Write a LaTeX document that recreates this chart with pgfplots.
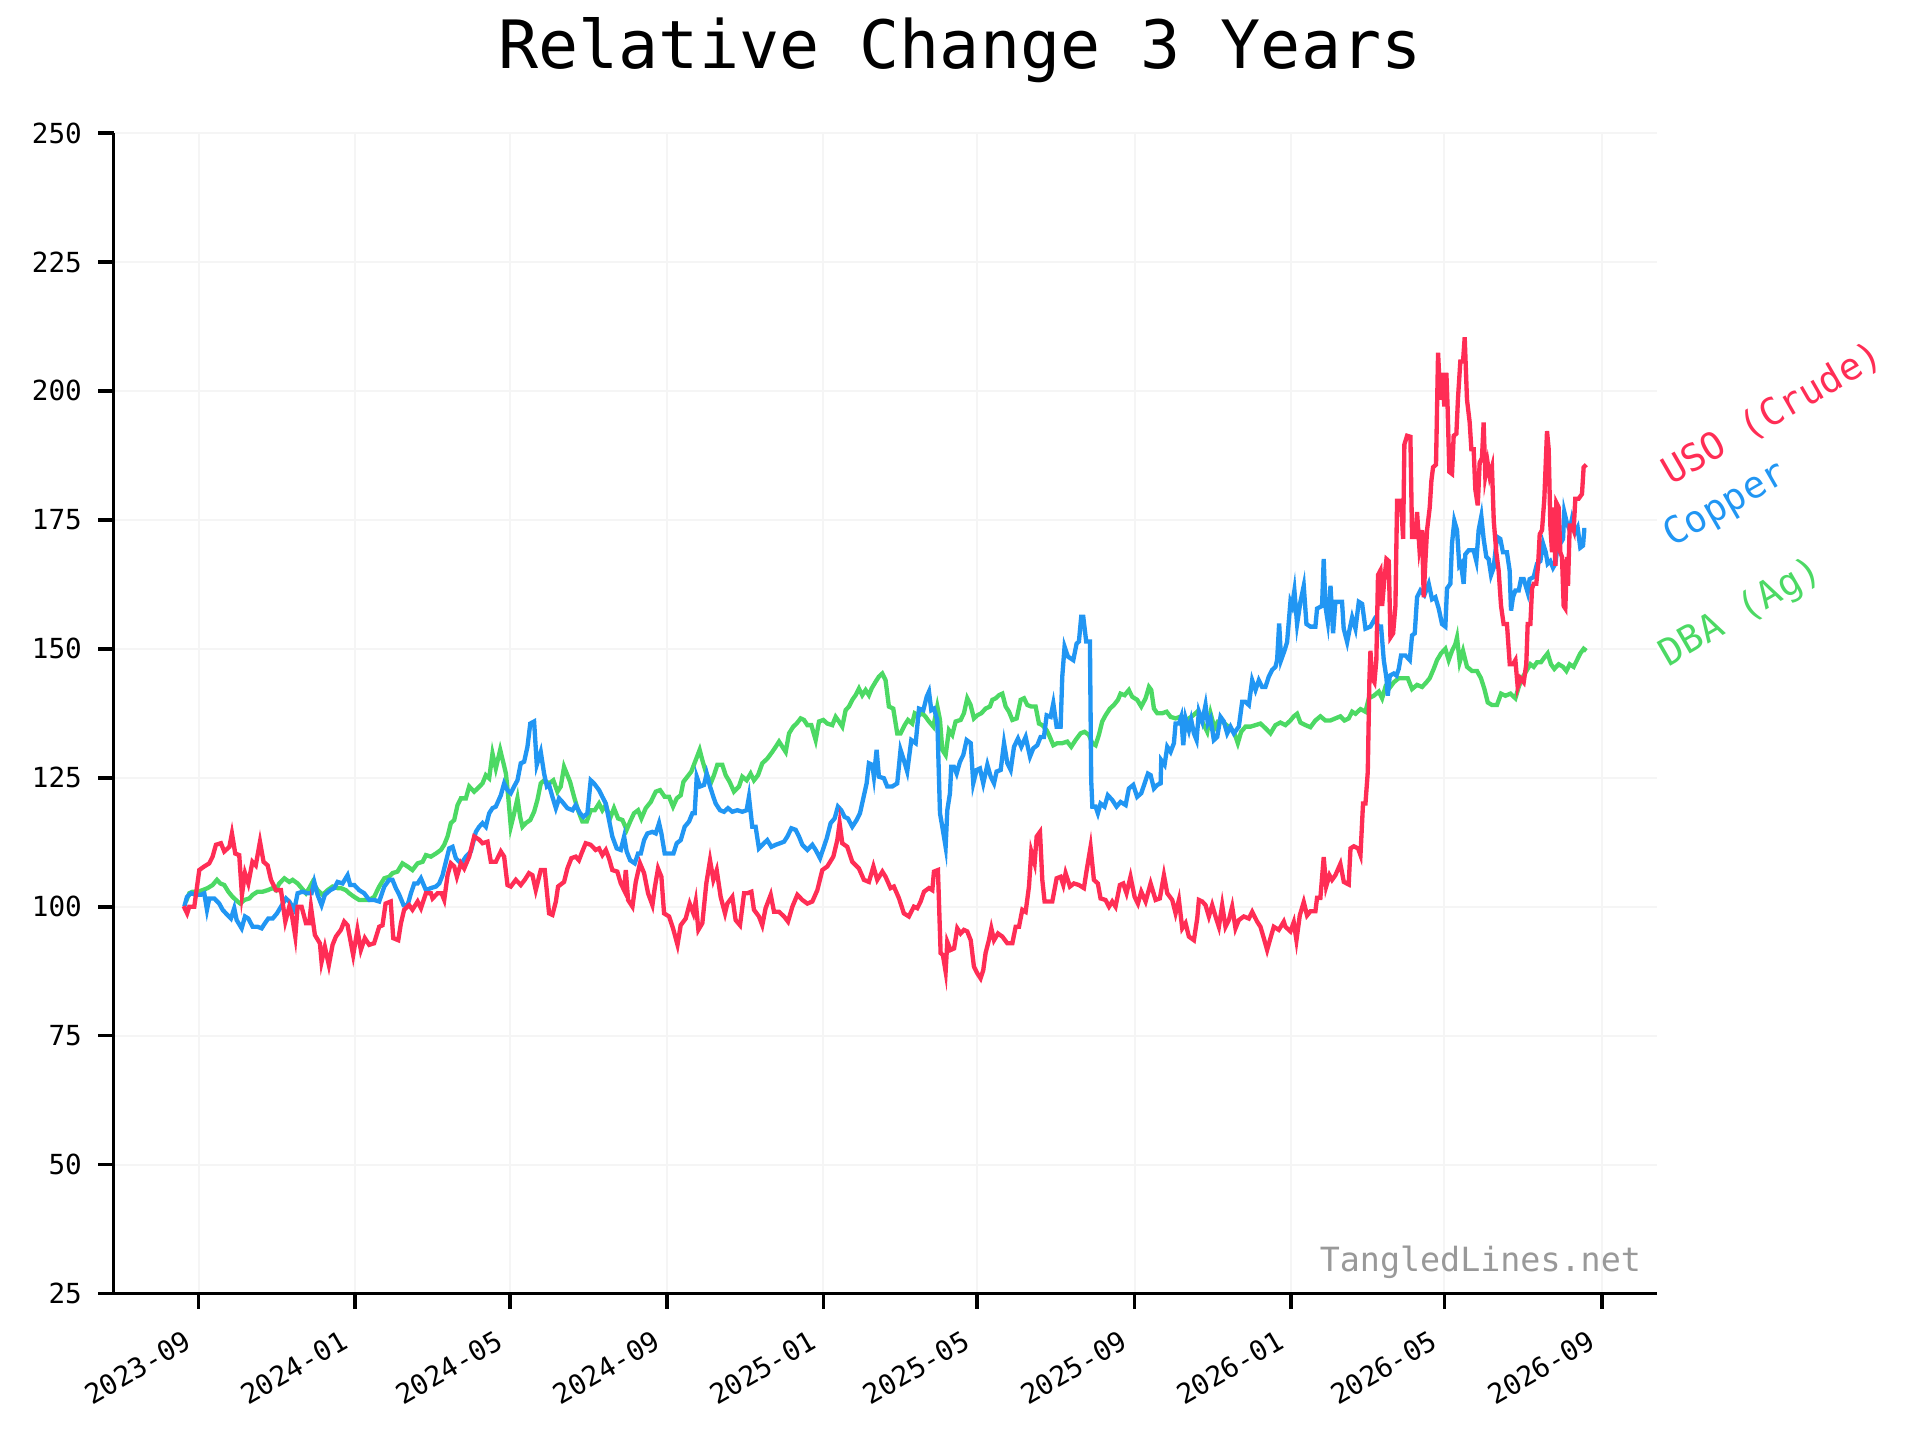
\documentclass[border=0pt]{standalone}
\usepackage{fontspec}
\setmainfont{DejaVu Sans Mono}
\usepackage{pgfplots}
\pgfplotsset{compat=1.18}
\definecolor{uso}{HTML}{FF2D55}
\definecolor{cop}{HTML}{2196F3}
\definecolor{dba}{HTML}{4CD964}
\begin{document}
\begin{tikzpicture}
\useasboundingbox (-34.05pt,-43.95pt) rectangle (541.95pt,388.05pt);
\node[anchor=base, font=\fontsize{20}{24}\selectfont] at (253.95pt,367.5pt) {Relative Change 3 Years};
\begin{axis}[
  scale only axis, width=463.05pt, height=348.15pt,
  at={(0,0)}, anchor=south west,
  xmin=-66.5, xmax=1139, ymin=25, ymax=250,
  axis x line*=bottom, axis y line*=left,
  axis line style={line width=1.1pt, -},
  xtick={0,122,243,366,488,608,731,853,973,1096},
  xticklabels={2023-09,2024-01,2024-05,2024-09,2025-01,2025-05,2025-09,2026-01,2026-05,2026-09},
  ytick={25,50,...,250},
  tick align=outside, major tick length=4.5pt,
  tick style={line width=1.1pt, black},
  grid=major, grid style={line width=0.6pt, color=black!4},
  /pgf/number format/assume math mode=true,
  ticklabel style={font=\fontsize{8.3}{10}\selectfont},
  xticklabel style={xshift=-4.6pt, yshift=-6pt, rotate=30, anchor=north east, inner sep=0pt},
  yticklabel style={xshift=-4.8pt, anchor=east, inner sep=0pt},
  clip=false,
]
\addplot[dba, line width=1.3pt] coordinates {
(-9.9,101) (-7.3,102.6) (-4.7,102.9) (-0.8,102.9) (3.1,103.2) (7,103.6) (10.9,104.2) (14.3,105.2) (16.9,104.5) (20,104.2)
(23.2,102.9) (26.5,101.9) (30.4,101) (32.5,100.6) (35.7,101.3) (39.6,101.6) (42.2,102.3) (46,102.9) (50,102.9) (53.9,103.2)
(57.8,103.6) (60.4,103.2) (63,104.5) (66.9,105.5) (70.8,104.8) (73.4,105.2) (77.3,104.5) (80.4,103.6) (83.8,102.6) (86.4,103.6)
(89,104.8) (92.9,103.2) (96.8,102.3) (100.7,103.2) (104.6,103.9) (108.5,103.6) (111.1,103.6) (115,103.2) (117.6,102.6) (121.5,101.9)
(125.4,101.3) (129.3,101.3) (133.2,101.3) (137.1,101.9) (141,103.9) (145,105.5) (148.8,105.8) (151.4,106.5) (155.3,106.8) (159.2,108.4)
(163.1,107.8) (167,107.1) (171,108.4) (174.9,108.7) (177.5,110) (181.4,109.7) (185.3,110.3) (189.2,111) (191.8,112) (194.4,113.6)
(197,116.2) (199.6,116.8) (202.2,119.7) (204.8,121) (208.7,121) (211.3,123.3) (215.2,122.3) (217.8,122.9) (221.7,123.9) (224.3,125.5)
(226.9,124.9) (229.5,129.7) (232.1,126.8) (235.5,130.4) (238.1,127.8) (240,125.8) (241.8,121.3) (243.8,115.5) (246.4,118.1) (249,121)
(251.1,117.4) (252.9,115.5) (255.5,116.2) (259,116.8) (262,118.4) (264.6,120.7) (267.2,123.9) (269.8,124.5) (273.7,123.9) (277,124.5)
(280.2,122.3) (282.8,123.3) (285.4,127.1) (287.5,125.8) (290.1,124.2) (293.2,121.3) (296.3,118.7) (299.7,116.5) (303.1,116.5) (306.2,118.7)
(309.4,118.7) (312.7,120) (315.3,118.7) (318,119.7) (321.3,117.1) (324.4,119.1) (327.6,117.1) (331,116.8) (334.3,114.9) (337,116.5)
(340,118.1) (343.2,118.7) (345.8,117.1) (349.2,119.1) (353.1,120.3) (357,122.3) (360.4,122.6) (364,121.3) (367.4,121.3) (370.5,119.4)
(373.4,121) (376.5,121.6) (378.6,124.2) (381.7,125.2) (384.8,126.2) (388.2,128.4) (391.3,130.4) (393.4,128.4) (396,126.2) (399.9,123.9)
(402.5,125.5) (405.1,127.5) (409,127.5) (411.6,125.5) (414.7,124.2) (418.1,122.3) (422,123.3) (424.6,125.2) (428,124.5) (431.1,125.8)
(433.7,124.5) (436.9,125.5) (440.2,127.8) (444.1,128.7) (448,130) (450.7,131) (453.3,132) (455.9,131) (458.5,130) (461.1,133.6)
(464.4,134.9) (467,135.5) (470.2,136.5) (472.8,136.2) (475.4,135.2) (478.5,135.2) (481.9,132.3) (484.5,135.9) (487.9,136.2) (491,135.5)
(494.9,135.2) (497.5,136.8) (500.1,135.9) (502.7,134.9) (505.3,138.1) (507.9,138.8) (510.5,140.1) (513.1,141) (515.7,142.3) (518.3,141)
(520.9,142) (523.5,141) (525.6,142.3) (528.7,143.6) (531.3,144.6) (533.9,145.2) (536.5,143.9) (539.1,138.8) (542.5,138.4) (545.6,133.6)
(548.2,133.6) (551.4,135.2) (554,136.2) (557.3,135.5) (559.3,137.5) (562.6,137.1) (565.2,137.5) (567.8,136.8) (570.4,135.9) (573.8,134.9)
(576.9,138.8) (579,136.2) (580.8,130.4) (583.4,129.4) (586,134.2) (588.6,133.3) (591.2,135.9) (595.1,136.2) (597.7,137.5) (600.3,140.4)
(602.9,139.1) (605.5,136.5) (608.1,137.1) (611.3,137.5) (614.6,138.4) (618,138.8) (619.9,140.1) (622.5,140.4) (625.1,141) (627.7,141.3)
(630.3,138.8) (632.9,137.8) (635.5,136.2) (638.9,136.5) (642,140.1) (644.6,140.4) (647.2,139.1) (650.3,138.8) (653.7,138.8) (656.3,135.5)
(658.9,135.2) (662.3,134.2) (664.1,133.3) (667.5,131.3) (670.6,131.7) (674.5,131.7) (678.4,132) (681.5,131) (684.9,132.3) (688.8,133.6)
(691.9,133.9) (695.3,133.3) (697.9,131.7) (700.5,131.3) (703.1,133.3) (705.7,135.9) (708.3,137.1) (711.7,138.4) (714.8,139.1) (718,140.1)
(720,141.3) (723.2,141) (726.5,142) (729.1,140.7) (733,140.1) (736.2,138.8) (739.6,140.4) (742.2,142.6) (744,142) (746.1,138.4)
(748.7,137.5) (752.6,137.5) (756,137.8) (759.1,136.8) (763,136.5) (766.4,136.8) (769.5,135.5) (773.4,136.5) (776.8,137.1) (779.9,137.8)
(782.5,136.5) (785.1,135.2) (787.7,133.9) (790.3,137.5) (793.4,134.6) (796,135.9) (799.4,135.9) (802.8,135.2) (805.9,134.6) (809,133.6)
(811.6,131.7) (814.2,133.9) (817.6,134.9) (821.5,134.9) (825.4,135.2) (829.3,135.5) (833.2,134.6) (837.1,133.6) (841,135.2) (844.9,135.7)
(848.8,135.2) (852.7,136.1) (855.3,136.9) (857.9,137.4) (860.5,135.7) (864.4,135.2) (868.3,134.8) (872.2,136.1) (876.1,136.9) (880,136.1)
(883.9,136.1) (887.8,136.5) (891.7,136.9) (894.9,136.1) (898.2,136.5) (900.9,137.8) (903.5,137.4) (907.4,138.3) (911.3,137.8) (913.9,140.4)
(917.8,140.9) (921.7,141.7) (924.3,140.4) (926.9,142.6) (929.5,142.2) (933.4,143.5) (937.3,144.3) (941.2,144.3) (944.3,144.3) (947.7,142.2)
(951.6,143) (955.5,142.6) (958.9,143.5) (961.5,144.3) (964.6,146.1) (967.2,147.8) (970.3,149.1) (973.7,150) (976.3,147.8) (978.9,149.6)
(981.5,150.9) (982.8,152.2) (984.9,147.4) (987.5,149.6) (990.6,146.5) (994.5,145.7) (998.4,145.7) (1001.5,144.3) (1004.2,142.2) (1006.8,139.6)
(1010.1,139.1) (1014,139.1) (1017.2,141.3) (1020.6,140.9) (1024.5,141.3) (1028.4,140.4) (1031,142.6) (1033.6,144.3) (1037,145.7) (1040.1,147)
(1042.7,146.5) (1045.3,147.4) (1048.4,147.4) (1051,148.3) (1053.6,149.1) (1056.2,147) (1058.8,146.1) (1062.2,147) (1065.6,146.5) (1068.2,145.7)
(1070.8,147) (1073.9,146.5) (1076.5,147.8) (1079.1,149.1) (1081.7,150) (1083.8,149.6)
};
\addplot[cop, line width=1.3pt] coordinates {
(-11.2,100) (-9.1,101.9) (-6,102.6) (-2,102.3) (1.8,102.3) (4.4,102.6) (6.5,99.4) (8.3,101.6) (12.2,101.6) (16.1,100.6)
(18.7,99.4) (21.3,98.7) (25.2,97.7) (27.8,99.7) (29.7,97.4) (33.6,95.8) (36.2,98.1) (38.8,97.7) (42.2,96.1) (46,96.1)
(49.2,95.8) (51.8,96.8) (54.4,97.7) (57.8,97.7) (61.2,98.7) (64.3,100) (68.2,101.6) (70.8,101) (74.7,99.4) (77.3,102.6)
(81.2,102.9) (85.1,102.6) (88.2,102.6) (90.3,104.8) (92.9,102.3) (96,100.3) (98.6,102.3) (102.8,103.2) (105.9,103.6) (108.5,104.8)
(112.4,104.5) (116.3,106.1) (118.4,104.2) (121.5,104.2) (125.4,103.2) (129.3,102.6) (133.2,101.3) (137.1,101.3) (141,101) (145,103.9)
(148.8,105.2) (151.4,105.2) (154,103.6) (156.7,102.3) (160,100.3) (163.2,100.3) (165.8,102.6) (168.4,104.5) (171,104.5) (173.6,105.5)
(177.5,103.2) (181.4,103.6) (185.3,103.9) (187.9,104.5) (190.5,106.1) (193.1,108.7) (195.7,111.3) (198.3,111.6) (200.9,109.4) (203.5,108.7)
(206.1,108.7) (208.7,109.7) (212.6,110.7) (216.5,114.5) (219.1,115.5) (221.7,116.2) (224.3,115.5) (226.9,118.1) (229.5,119.1) (232.1,119.4)
(236,121.6) (238.6,123.9) (241.2,122.6) (243.8,122) (246.4,123.3) (249,124.5) (251.6,127.8) (254.2,128.1) (256.8,131) (259,135.5)
(262,135.9) (264.1,127.5) (267.2,130) (269.8,125.8) (272,123.3) (273.7,123.6) (276.3,121.3) (279,119.1) (281.5,121) (284.1,120.3)
(288,119.1) (292,118.7) (294.5,119.7) (297.9,118.1) (300.5,117.4) (303.6,118.1) (306.2,124.5) (308.8,123.9) (312.7,122.6) (315.3,121.3)
(318,120) (320.5,116.8) (323.1,113.6) (326.5,111.3) (329.7,111) (332.3,113.6) (334.3,110.7) (337,109) (340.6,108.4) (343.2,110.3)
(345.3,110.3) (347.9,112.9) (350.5,114.2) (354.4,114.5) (357,114.2) (359.6,116.2) (361.4,114.2) (364,110.3) (367.4,110.3) (370.8,110.3)
(373.4,112.3) (376.5,112.9) (379.6,115.5) (383,116.5) (385.6,118.1) (387.4,118.1) (389,125.2) (391.6,123.3) (394.7,123.6) (396.8,125.8)
(399.4,123.3) (402,121.3) (403.8,120) (407.2,118.7) (410.3,118.4) (413.4,119.1) (416.8,118.4) (420.7,118.7) (424.6,118.4) (428,118.7)
(429.8,121.3) (432.4,115.5) (435,115.5) (437.6,111.3) (441.5,112.3) (444.1,112.9) (447.3,111.6) (450.7,112) (454.1,112.3) (457.2,112.6)
(459.8,113.6) (462.9,115.2) (466.3,114.9) (468.9,113.6) (471.5,112) (475.4,111) (479.3,112) (481.9,111) (485.3,109.4) (487.9,111.3)
(490.5,113.2) (493.6,116.2) (496.7,117.1) (499.3,119.4) (501.9,118.7) (504.5,117.4) (507.1,117.1) (510.5,115.5) (513.9,116.8) (516.5,118.1)
(519.1,121) (521.7,123.9) (523.5,127.8) (526.1,127.5) (527.4,125.2) (529.5,130.4) (531.3,125.2) (535.2,124.9) (537.8,123.3) (541.7,123.3)
(545.6,123.9) (548.2,130.4) (550.8,128.4) (553.4,126.2) (556.6,132.3) (560,131.7) (562.6,138.4) (566,138.1) (568.6,140.7) (570.4,141.7)
(572.2,138.1) (574.3,138.4) (576.9,136.2) (579,118.1) (580.8,115.5) (583.4,111.6) (584.7,118.7) (586.8,122) (587.8,127.1) (589.9,127.1)
(592,125.8) (594.6,128.1) (597.2,129.4) (599.8,132.3) (603,131.7) (605,123.9) (607.6,126.5) (610.2,126.8) (612.8,123.9) (616,127.5)
(618.6,125.2) (621.2,123.9) (623.2,126.2) (626.4,126.5) (629,131.7) (631.6,127.8) (634.2,126.5) (636.8,131) (639.9,132.6) (642.5,131)
(645.9,132.9) (649.3,129.1) (651.9,130.7) (655,131.3) (657.6,132.9) (660.2,132.9) (662.3,137.1) (665.4,136.8) (667.5,139.4) (670.1,134.9)
(673.2,134.9) (674.5,144.6) (676.3,150.4) (678.9,148.5) (683.1,147.8) (685.7,151) (687.5,151.4) (689.3,156.2) (690.9,156.2) (693.2,151.4)
(696.1,151.4) (697.1,124.5) (698,119.4) (700.5,119.4) (702.3,118.1) (704.4,120) (707.5,119.4) (710.1,121.6) (713.5,120.7) (716.9,119.4)
(720,120.3) (724,119.7) (726.5,122.9) (729.9,123.6) (733,121.3) (736.2,122) (738.8,123.9) (741.4,125.8) (743.5,125.5) (746.1,122.9)
(748.7,123.6) (751.3,123.9) (751.8,128.4) (754.4,127.5) (756.5,131) (759.1,130) (761.7,131.7) (763,135.5) (765.6,135.5) (767.4,136.8)
(769,131.3) (770.8,136.5) (773.4,134.2) (775.2,136.2) (777.3,133.6) (779.4,132.3) (781.2,137.8) (783.8,135.9) (786.4,139.1) (788.2,135.5)
(790.3,136.5) (792.9,132.3) (795.5,132.9) (798.1,136.8) (800.7,135.9) (803.3,133.6) (805.9,134.9) (808.5,133.6) (812.4,134.9) (815,139.7)
(817.6,139.7) (820.2,139.1) (822.8,143.9) (825.4,142) (828,143.9) (830.6,142.6) (833.2,142.6) (835.8,144.6) (838.4,145.9) (841,146.5)
(842.3,147.8) (843.9,154.9) (845.4,147.8) (848,149.6) (850.1,151.3) (852.7,159.1) (854,158.3) (855.8,161.3) (857.9,154.8) (860.5,159.1)
(863.1,162.2) (865.2,154.8) (868.3,154.3) (872.2,154.3) (873.5,157.8) (877.4,158.3) (878.7,167.4) (880,158.3) (881.9,155.2) (884,162.2)
(886,153) (887.8,159.1) (890.4,159.1) (893,159.1) (894.3,153.9) (897,151.3) (899,153.9) (900.9,156.1) (903.5,153.9) (906.1,159.1)
(908.7,158.7) (911.3,153.9) (915.2,154.3) (918.3,155.7) (921.7,154.3) (923.5,154.3) (925.6,147.8) (927.7,144.3) (928.7,140.9) (930.3,144.8)
(933.4,145.2) (935.5,144.8) (937.3,146.1) (939.1,148.7) (942.5,148.7) (945.9,147.8) (947.7,152.6) (949.8,153) (951.6,160) (954.2,161.3)
(957.3,160.4) (960.7,162.6) (963.3,159.6) (965.9,160) (968.5,157.8) (971.1,154.8) (973.7,154.3) (975,161.7) (977.6,162.6) (978.9,170.4)
(980.7,174.8) (982.8,173) (984.6,166.1) (985.9,166.5) (988,162.6) (989.3,168.3) (991.9,169.1) (995.8,169.1) (997.9,167) (999.7,173)
(1001.8,175.7) (1003.6,171.3) (1005.7,167.8) (1007.5,167.4) (1009.4,164.3) (1011.4,165.7) (1014.1,171.7) (1016.6,171.3) (1018.7,168.7) (1021.8,168.7)
(1023.9,165.2) (1025,157.4) (1026.5,160) (1028.4,161.3) (1031,161.3) (1032.8,163.5) (1034.9,163.5) (1038,160.9) (1039.5,163.5) (1042.7,163.9)
(1045.3,166.5) (1047.9,167) (1050,170.4) (1052.1,168.7) (1053.6,166.5) (1055.7,167) (1057.8,165.7) (1059.6,166.5) (1061.4,170) (1063.5,170.4)
(1065.6,171.3) (1066.6,176.5) (1068.7,174.3) (1070.8,173) (1072.6,175.2) (1075.2,172.6) (1077,173.5) (1079.1,169.6) (1081.2,170) (1082.2,173)
(1083.8,173)
};
\addplot[uso, line width=1.3pt] coordinates {
(-11.7,100.1) (-9,98.7) (-7.3,100) (-3.4,100) (0.5,107.1) (4.4,107.8) (8.3,108.4) (10.9,109.7) (13.5,112) (17.4,112.3)
(20,110.7) (24,111.6) (26,114.2) (28.6,110.3) (31.7,110) (33.8,102.3) (36.2,106.5) (38.8,104.5) (42,108.7) (44.6,108)
(47.9,112.6) (50.7,108.7) (53.9,108) (56.5,105.2) (60.4,103.2) (64.3,103.2) (67.7,97.1) (70.8,100) (72.6,98.7) (75.5,94.2)
(77.3,100) (80.4,100) (83.8,96.8) (86.4,96.8) (87.7,100) (90.8,94.5) (94.7,92.9) (96,89.3) (98.6,92.2) (101.7,88.7)
(104.6,92.6) (107.2,94.2) (111.1,95.5) (113.7,97.1) (116.3,96.4) (120.7,90.6) (124,95.5) (126.7,91.6) (129.8,93.9) (133.2,92.6)
(137,92.9) (141,96.1) (143.6,96.4) (146,100.6) (150,101) (152,93.9) (155.9,93.5) (158,96.8) (160.5,99.4) (164.4,100.3)
(167,99.4) (171,101) (173.6,99.7) (177.5,102.6) (181.4,102.6) (182.7,101.6) (186.6,102.6) (189.7,102.6) (191.8,101.3) (194.4,106.1)
(197,108.4) (199.6,107.8) (201.7,105.8) (204.8,108.4) (207.4,107.4) (211.3,109.7) (215.2,113.6) (219.1,113) (221.7,112.3) (225.6,112.6)
(228.2,108.7) (232.1,108.7) (236,110.7) (238.6,109.7) (241.2,104.2) (243.8,103.9) (247.7,105.2) (251.6,104.2) (254.7,105.2) (258,106.5)
(260.7,106.1) (263.3,103.2) (267.2,107.1) (270.3,107.1) (273.7,98.7) (276.3,98.4) (279,101) (280.7,103.9) (285.4,104.8) (288,107.4)
(291.1,109.4) (294.5,109.7) (297,109) (299,110.3) (302.3,112.3) (306.2,112) (310.1,111) (312.7,111.3) (315.3,110) (318,111)
(320.5,109.4) (323.1,107.1) (327,106.8) (329.7,104.5) (332.3,103.2) (333.6,107.1) (335.4,101.3) (338.8,100) (341.4,104.8) (344.7,108.4)
(347.9,106.5) (351,102.6) (354.4,100.3) (356.2,103.6) (358.8,107.4) (361.4,105.8) (363.5,98.7) (367.4,98.1) (370.5,95.8) (374,92.6)
(376.5,96.4) (380.4,97.7) (383.5,100.6) (386.4,98.7) (388.2,101) (390.3,95.5) (393.4,96.8) (396.5,104.5) (399.4,109) (402,105.2)
(404.6,107.1) (407.7,101.9) (411.1,98.7) (412.9,100.6) (416.8,101.9) (419.4,97.4) (422.8,96.4) (426,102.6) (428.5,102.6) (431.7,102.9)
(433.7,99.4) (437.6,98.1) (440.2,96.4) (442.8,99.7) (446.8,102.3) (449.4,99) (453.3,99) (457.2,98.1) (460.3,97.1) (463.7,100)
(467.6,102.3) (471.5,101.3) (475.4,100.6) (479.3,101) (483.2,103.2) (487.1,107.1) (491,107.8) (495.7,109.7) (498.8,112.9) (500.6,116.2)
(502.7,112.3) (506.6,111.6) (510.5,108.7) (515.7,107.4) (519.6,105.2) (523.5,104.8) (527,107.8) (530,105.2) (534,106.8) (536.5,105.8)
(540.4,103.6) (543,103.9) (547,101.6) (550.8,98.7) (554.7,98.1) (558.6,100) (561.3,99.7) (563.9,101) (566.5,102.9) (570.4,103.6)
(573,103.2) (574.3,106.8) (577.4,107.1) (579.5,91) (581.3,90.6) (583.4,87.4) (584.7,93.2) (587.3,91.6) (590,91.9) (592.5,95.8)
(595.1,94.8) (597.7,95.5) (600.3,95.2) (603,93.5) (605.5,88.4) (608.1,87.1) (610.7,86.1) (612.8,87.7) (614.6,91) (617.2,93.5)
(619.1,95.8) (621.2,93.5) (624.3,94.8) (627.7,94.2) (631.6,92.9) (635.5,92.9) (638.1,96.1) (640.7,96.1) (643.3,99.4) (645.9,99)
(648.5,103.9) (650.3,110.7) (652.9,108.4) (654.5,113.6) (657.1,114.5) (658.9,105.2) (660.7,101) (664.1,101) (666.7,101) (670.1,105.5)
(673.2,105.8) (675.3,104.2) (677.1,106.5) (680.5,103.9) (683.6,104.5) (687.5,104.2) (691.4,103.6) (693.2,106.5) (696.6,111.6) (699.2,105.2)
(702.3,104.5) (704.4,101.6) (708.3,101.3) (711,100) (713.5,101) (716.1,100) (719.5,104.2) (722.1,104.5) (724.7,102.6) (727.8,105.8)
(731,101.9) (733.6,100.6) (736.2,102.9) (739.6,101) (743.5,104.5) (747.4,101.3) (750.7,101.6) (753.9,106.1) (756.5,102.6) (760.4,101.3)
(763,98.7) (765.6,101.3) (768.2,95.8) (770.8,96.8) (773.4,94.2) (777.3,93.5) (779.9,97.7) (781.2,101.3) (783.8,101) (786.4,100.3)
(789,98.1) (791.6,100.3) (794.2,98.1) (796.8,96.1) (799.4,100.3) (802,96.1) (804.6,97.4) (807.2,100) (809.8,95.8) (812.4,97.4)
(816.3,98.1) (820.2,97.7) (822.8,99) (826.7,97.1) (829.3,96.1) (831.9,93.9) (834.5,91.6) (837.1,93.9) (839.7,96.1) (843.6,95.5)
(847.5,97.1) (848.8,96.1) (852.7,95.2) (855.3,97) (857.4,93.5) (860,98.3) (863.1,100.9) (865.7,98.3) (868.3,99.1) (872.2,99.1)
(873.5,101.7) (876.1,101.7) (878.7,109.6) (880.6,103.9) (883.2,106.1) (885.2,105.2) (887.8,106.1) (891.7,108.3) (894.4,104.8) (898.2,104.3)
(899.6,111.3) (902.2,111.7) (905.5,111.3) (907.4,110) (909.4,120) (911.3,120) (913.1,126.1) (914.4,144.3) (915.2,149.6) (916.5,144.3)
(918.3,143.5) (919.8,147.8) (921.1,164.3) (923,165.2) (924.3,158.3) (926.1,163.5) (927.7,167.4) (929.5,167) (930.8,152.2) (932.9,153)
(934.7,158.3) (936,178.7) (939.1,178.7) (940.7,171.3) (941.7,189.6) (943.8,191.3) (946.4,191.1) (947.7,171.7) (950.3,171.7) (951.6,176.5)
(953.4,169.6) (955.5,173) (956.8,160) (958.1,167) (959.4,173) (961.5,177.4) (962.8,182.6) (964.1,185.2) (966.4,185.7) (968,207.4)
(969.8,198.3) (971.1,203.5) (972.9,197) (974.5,203.5) (975.5,196.5) (976.8,184.3) (978.9,183.9) (980.2,191.3) (982.3,191.7) (983.6,198.7)
(985.4,205.7) (987.5,205.7) (988.8,210.4) (990.6,198.3) (992.7,193.9) (994,188.7) (995.8,188.7) (997.1,180.9) (999,177.8) (1000.5,186.1)
(1002.3,187) (1003.6,193.9) (1004.9,183.5) (1006.7,186.1) (1008.3,183.5) (1010.1,185.2) (1011.5,174.8) (1013.5,168.7) (1015.3,165.2) (1017.2,158.3)
(1019.2,154.8) (1021.8,154.8) (1024,147) (1026.5,147) (1028.4,147.8) (1030.2,142.6) (1032.3,144.3) (1034.9,143.5) (1036.9,147) (1038,154.8)
(1040.1,154.8) (1041.4,161.7) (1042.7,162.6) (1044.7,162.6) (1046.1,166.1) (1047.4,172.2) (1049.2,173) (1051,179.1) (1053.1,192.2) (1054.4,188.7)
(1055.7,173.9) (1057,168.7) (1058.3,177.4) (1059.6,166.1) (1060.4,178.3) (1062.2,177.4) (1063.5,168.7) (1064.8,167.8) (1066.1,158.3) (1067.4,157.8)
(1068.7,167.8) (1069.5,162.2) (1070.8,173.9) (1072.6,173.9) (1073.9,173) (1075.2,179.1) (1077.8,179.1) (1080.4,180) (1081.7,185.2) (1083.8,185.7)
};
\node[rotate=30, anchor=base west, inner sep=0pt, text=uso, font=\fontsize{11.2}{13}\selectfont] at (axis cs:1149.5,181.5) {USO (Crude)};
\node[rotate=30, anchor=base west, inner sep=0pt, text=cop, font=\fontsize{11.2}{13}\selectfont] at (axis cs:1150.5,169.5) {Copper};
\node[rotate=30, anchor=base west, inner sep=0pt, text=dba, font=\fontsize{11.2}{13}\selectfont] at (axis cs:1147.5,146.4) {DBA (Ag)};
\node[anchor=south east, inner sep=0pt, text=black!40, font=\fontsize{10}{12}\selectfont] at (rel axis cs:0.99,0.012) {TangledLines.net};
\end{axis}
\end{tikzpicture}
\end{document}
